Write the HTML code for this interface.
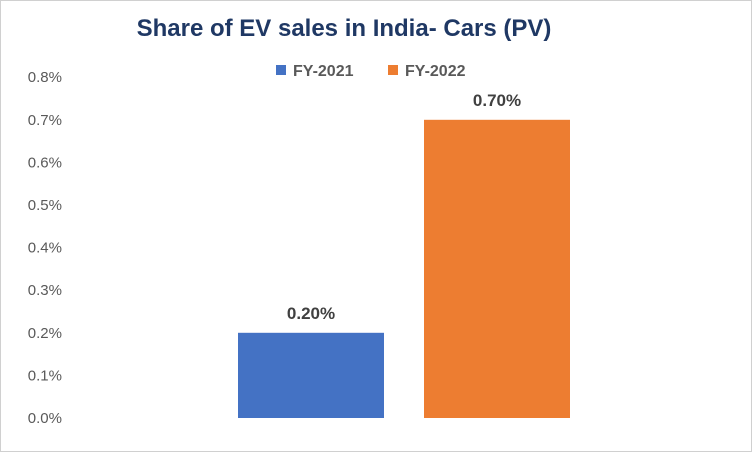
<!DOCTYPE html>
<html><head><meta charset="utf-8"><style>
body{margin:0;background:#fff;font-family:"Liberation Sans",sans-serif}
#c{position:relative;width:752px;height:452px;overflow:hidden}
</style></head><body>
<div id="c">
<svg id="s" width="752" height="452">
<rect x="0.5" y="0.5" width="751" height="451" fill="#fff" stroke="#d0d0d0"/>
<text x="344" y="36" text-anchor="middle" font-size="24" font-weight="bold" fill="#1f3864">Share of EV sales in India- Cars (PV)</text>
<rect x="276" y="65" width="10" height="10" fill="#4472c4"/>
<text x="293" y="76" font-size="16" font-weight="600" fill="#595959">FY-2021</text>
<rect x="388" y="65" width="10" height="10" fill="#ed7d31"/>
<text x="405" y="76" font-size="16" font-weight="600" fill="#595959">FY-2022</text>
<g id="ax"></g><g id="bars"></g>
</svg></div>
<script>
const ticks=[0,0.1,0.2,0.3,0.4,0.5,0.6,0.7,0.8];
const series=["FY-2021","FY-2022"];
const values=[0.2,0.7];
const colors=["#4472c4","#ed7d31"];
const y0=418,pxPer=42.6/0.1;
function y(v){return y0-v*pxPer;}
const NS="http://www.w3.org/2000/svg";
const ax=document.getElementById('ax'),bg=document.getElementById('bars');
ticks.forEach(t=>{
 const tx=document.createElementNS(NS,'text');
 tx.setAttribute('x',62);tx.setAttribute('y',y(t)+5);tx.setAttribute('text-anchor','end');
 tx.setAttribute('font-size','15');tx.setAttribute('fill','#595959');
 tx.textContent=t.toFixed(1)+'%';
 
 
 ax.appendChild(tx);
});
const bw=146,gap=40,start=238;
values.forEach((v,i)=>{
 const x=start+i*(bw+gap);
 const r=document.createElementNS(NS,'rect');
 r.setAttribute('x',x);r.setAttribute('y',y(v));r.setAttribute('width',bw);r.setAttribute('height',y0-y(v));
 r.setAttribute('fill',colors[i]);
 
 
 bg.appendChild(r);
 const l=document.createElementNS(NS,'text');
 l.setAttribute('x',x+bw/2);l.setAttribute('y',y(v)-14);l.setAttribute('text-anchor','middle');
 l.setAttribute('font-size','17');l.setAttribute('font-weight','bold');l.setAttribute('fill','#404040');
 l.textContent=v.toFixed(2)+'%';
 
 
 bg.appendChild(l);
});
</script>
</body></html>
